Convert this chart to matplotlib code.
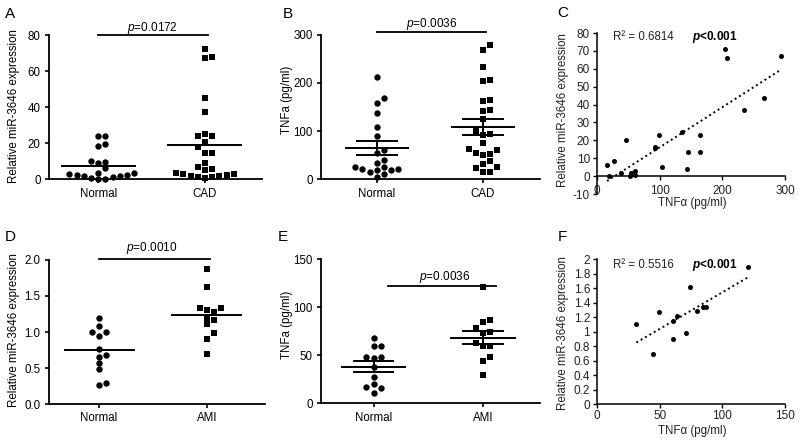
import numpy as np
import matplotlib
matplotlib.use('Agg')
import matplotlib.pyplot as plt

plt.rcParams['font.family'] = ['Liberation Sans', 'DejaVu Sans']
plt.rcParams['mathtext.fontset'] = 'custom'
plt.rcParams['mathtext.rm'] = 'Liberation Sans'
plt.rcParams['mathtext.it'] = 'Liberation Sans:italic'
plt.rcParams['mathtext.bf'] = 'Liberation Sans:bold'
try:
    plt.rcParams['mathtext.bfit'] = 'Liberation Sans:bold:italic'
except KeyError:
    pass

# ---------------- data ----------------
cats_cad = ['Normal', 'CAD']
cats_ami = ['Normal', 'AMI']

mir_normal_cad = [24, 24, 18.5, 19.6, 10.2, 8.8, 9.8, 6.1, 3.7, 3.3, 3, 2.4, 2.4, 1.8, 1.8, 1.5,
                  0.5, 0.2, 0.2]
mir_cad = [72, 68, 67, 45, 37.5, 25, 24, 24, 20.9, 17.8, 14.8, 14.8, 8.9, 6.7, 5.6, 5, 3.7, 3,
           3, 2.4, 1.8, 1.8, 1.5, 1.5, 0.7]

tnf_normal_cad = [213, 168, 159, 137, 109, 90, 61, 55, 40, 33, 25, 19, 16, 25, 22, 12, 20, 22, 5]
tnf_cad = [278, 268, 232, 206, 203, 164, 162, 144, 141, 126, 100, 95, 92, 75, 62, 60, 55, 52, 50,
           37, 32, 25, 23, 16, 15]

mir_normal_ami = [1.20, 1.09, 1.0, 1.0, 0.94, 0.76, 0.65, 0.68, 0.565, 0.48, 0.27, 0.29]
mir_ami = [1.88, 1.62, 1.34, 1.34, 1.31, 1.28, 1.20, 1.16, 1.11, 0.98, 0.90, 0.69]

tnf_normal_ami = [68, 60, 60, 48, 48, 47, 38, 27, 20, 17, 16, 11]
tnf_ami = [120.8, 85, 86.8, 78, 74.6, 72.9, 63, 59.7, 59.7, 47.9, 44.4, 29.5]

corr_c_tnf = [16, 26.6, 19, 38, 46, 52, 55, 60, 60, 92, 93, 99, 103, 135, 145, 144, 164, 164,
              204, 208, 234, 267, 293]
corr_c_mir = [6, 8.4, 0, 1.5, 20, 0, 2, 3, 0.5, 16, 15.5, 23, 5, 24.4, 13.6, 4.2, 23, 13.3,
              71, 66, 36.7, 43.8, 67]

corr_f_tnf = [31.4, 49.3, 45, 60.7, 60.7, 64.2, 71.4, 74.6, 79.7, 84.7, 86.9, 120.7]
corr_f_mir = [1.11, 1.27, 0.687, 1.147, 0.894, 1.207, 0.977, 1.608, 1.286, 1.336, 1.336, 1.885]

p_dot = ['0.0172', '0.0036', '0.0010', '0.0036']
r2_text = ['0.6814', '0.5516']

# ---------------- figure ----------------
W, H = 800, 444
fig = plt.figure(figsize=(W / 100, H / 100), dpi=100)


def rect(l, r, t, b):
    return [l / W, 1 - b / H, (r - l) / W, (b - t) / H]


def ftext(x, y, s, **kw):
    return fig.text(x / W, 1 - y / H, s, **kw)


FS = 8.3


def swarm(ax, xc, vals, step, thr):
    pts = ax.transData.transform(np.column_stack([np.full(len(vals), xc), vals]))
    order = np.argsort(np.asarray(vals), kind='stable')
    placed = []
    xs = np.zeros(len(vals))
    offs = [0]
    for k in range(1, 10):
        offs += [k, -k]
    for i in order:
        px, py = pts[i]
        for k in offs:
            cx = px + k * step
            if all((cx - qx) ** 2 + (py - qy) ** 2 >= thr ** 2 for qx, qy in placed):
                break
        placed.append((cx, py))
        xs[i] = cx
    back = ax.transData.inverted().transform(np.column_stack([xs, pts[:, 1]]))
    return back[:, 0]


def dotplot(ax, groups, cats, xlim, ylim, yticks, ytl, sem, mean_hw, sem_hw):
    ax.set_xlim(*xlim)
    ax.set_ylim(*ylim)
    for sp in ['top', 'right']:
        ax.spines[sp].set_visible(False)
    for sp in ['left', 'bottom']:
        ax.spines[sp].set_linewidth(1.3)
    ax.set_xticks([1, 2])
    ax.set_xticklabels(cats)
    ax.set_yticks(yticks)
    ax.set_yticklabels(ytl)
    ax.tick_params(axis='both', direction='out', length=3, width=1.2, labelsize=FS, pad=3)
    markers = ['o', 's']
    sizes = [21, 24]
    for i, vals in enumerate(groups):
        vals = np.asarray(vals, float)
        xs = swarm(ax, i + 1, vals, 7.2, 6.0)
        ax.scatter(xs, vals, marker=markers[i], s=sizes[i], color='black', linewidths=0,
                   zorder=3, clip_on=False)
        m = vals.mean()
        ax.plot([i + 1 - mean_hw, i + 1 + mean_hw], [m, m], color='black', lw=1.4, zorder=4)
        if sem:
            se = vals.std(ddof=1) / np.sqrt(len(vals))
            for yy in (m - se, m + se):
                ax.plot([i + 1 - sem_hw, i + 1 + sem_hw], [yy, yy], color='black', lw=1.4, zorder=4)
            ax.plot([i + 1, i + 1], [m - se, m + se], color='black', lw=1.4, zorder=4)


def sigbar(ax, x0, x1, y):
    ax.plot([x0, x1], [y, y], color='black', lw=1.3, clip_on=False)


# Panel A
axA = fig.add_axes(rect(49, 262, 35, 179.3))
dotplot(axA, [mir_normal_cad, mir_cad], cats_cad, (0.54, 2.534), (0, 80),
        [0, 20, 40, 60, 80], ['0', '20', '40', '60', '80'], False, 0.342, 0)
sigbar(axA, 1.0, 2.03, 80)

# Panel B
axB = fig.add_axes(rect(321, 540, 34.7, 179.3))
dotplot(axB, [tnf_normal_cad, tnf_cad], cats_cad, (0.475, 2.537), (0, 300),
        [0, 100, 200, 300], ['0', '100', '200', '300'], True, 0.29, 0.19)
sigbar(axB, 1.0, 2.03, 305)

# Panel D
axD = fig.add_axes(rect(49, 265, 260, 404))
dotplot(axD, [mir_normal_ami, mir_ami], cats_ami, (0.536, 2.54), (0, 2.0),
        [0, 0.5, 1.0, 1.5, 2.0], ['0.0', '0.5', '1.0', '1.5', '2.0'], False, 0.32, 0)
sigbar(axD, 1.0, 2.03, 2.01)

# Panel E
axE = fig.add_axes(rect(321, 540, 259.3, 403.3))
dotplot(axE, [tnf_normal_ami, tnf_ami], cats_ami, (0.52, 2.52), (0, 150),
        [0, 50, 100, 150], ['0', '50', '100', '150'], True, 0.29, 0.18)
sigbar(axE, 1.13, 2.12, 122)

# p-value texts
ftext(152, 28, r'$\it{p}$=' + p_dot[0], ha='center', va='center', fontsize=8.5)
ftext(432, 24, r'$\it{p}$=' + p_dot[1], ha='center', va='center', fontsize=8.5)
ftext(152, 248, r'$\it{p}$=' + p_dot[2], ha='center', va='center', fontsize=8.5)
ftext(445, 277, r'$\it{p}$=' + p_dot[3], ha='center', va='center', fontsize=8.5)

# y labels for dot plots
ftext(14, 106, 'Relative miR-3646 expression', rotation=90, ha='center', va='center', fontsize=FS)
ftext(287, 100, 'TNFa (pg/ml)', rotation=90, ha='center', va='center', fontsize=FS)
ftext(14, 330, 'Relative miR-3646 expression', rotation=90, ha='center', va='center', fontsize=FS)
ftext(287, 325, 'TNFa (pg/ml)', rotation=90, ha='center', va='center', fontsize=FS)


def corrplot(ax, xv, yv, xlim, ylim, xticks, yticks, ytl, xpad):
    ax.set_xlim(*xlim)
    ax.set_ylim(*ylim)
    for sp in ['top', 'right']:
        ax.spines[sp].set_visible(False)
    ax.spines['bottom'].set_position(('data', 0))
    for sp in ['left', 'bottom']:
        ax.spines[sp].set_linewidth(1.1)
    ax.set_xticks(xticks)
    ax.set_yticks(yticks)
    ax.set_yticklabels(ytl)
    ax.tick_params(axis='y', direction='out', length=3, width=1, labelsize=8.5, pad=2,
                   labelcolor='#222222')
    ax.tick_params(axis='x', direction='out', length=3, width=1, labelsize=8.5, pad=xpad,
                   labelcolor='#222222')
    xv = np.asarray(xv, float)
    yv = np.asarray(yv, float)
    ax.scatter(xv, yv, s=13, color='black', linewidths=0, zorder=3, clip_on=False)
    k, b = np.polyfit(xv, yv, 1)
    xx = np.array([xv.min(), xv.max()])
    ax.plot(xx, k * xx + b, color='black', lw=1.4, linestyle=(0, (1, 1.6)), zorder=2)


# Panel C
axC = fig.add_axes(rect(597, 785, 33, 194))
corrplot(axC, corr_c_tnf, corr_c_mir, (0, 300), (-10, 80), [0, 100, 200, 300],
         list(range(-10, 81, 10)), [str(v) for v in range(-10, 81, 10)], 3.2)

# Panel F
axF = fig.add_axes(rect(597, 785, 259, 404))
fy = [round(0.2 * i, 1) for i in range(11)]
corrplot(axF, corr_f_tnf, corr_f_mir, (0, 150), (0, 2), [0, 50, 100, 150],
         fy, ['{:g}'.format(v) for v in fy], 1.5)

ftext(563, 110, 'Relative miR-3646 expression', rotation=90, ha='center', va='center',
      fontsize=FS, color='#222222')
ftext(563, 333, 'Relative miR-3646 expression', rotation=90, ha='center', va='center',
      fontsize=FS, color='#222222')
ftext(692, 197, 'TNFα (pg/ml)', ha='center', va='top', fontsize=FS, color='#222222')
ftext(692, 425, 'TNFα (pg/ml)', ha='center', va='top', fontsize=FS, color='#222222')

ftext(643, 37, 'R² = ' + r2_text[0], ha='center', va='center', fontsize=8.3, color='#222222')
ftext(643, 265, 'R² = ' + r2_text[1], ha='center', va='center', fontsize=8.3, color='#222222')
ptx = r'$\mathbfit{p}$<0.001'
t1 = ftext(715, 37, ptx, ha='center', va='center', fontsize=8.5, fontweight='bold', color='black')
try:
    fig.canvas.draw()
except Exception:
    t1.remove()
    ptx = r'$\it{p}$<0.001'
    ftext(715, 37, ptx, ha='center', va='center', fontsize=8.5, fontweight='bold', color='black')
ftext(715, 265, ptx, ha='center', va='center', fontsize=8.5, fontweight='bold', color='black')

# panel letters
for lab, (x, y) in zip('ABCDEF', [(10, 14), (288, 14), (563, 13), (10, 237), (283, 237), (562, 237)]):
    ftext(x, y, lab, ha='center', va='center', fontsize=11)

fig.savefig('out.png', dpi=100, facecolor='white')
